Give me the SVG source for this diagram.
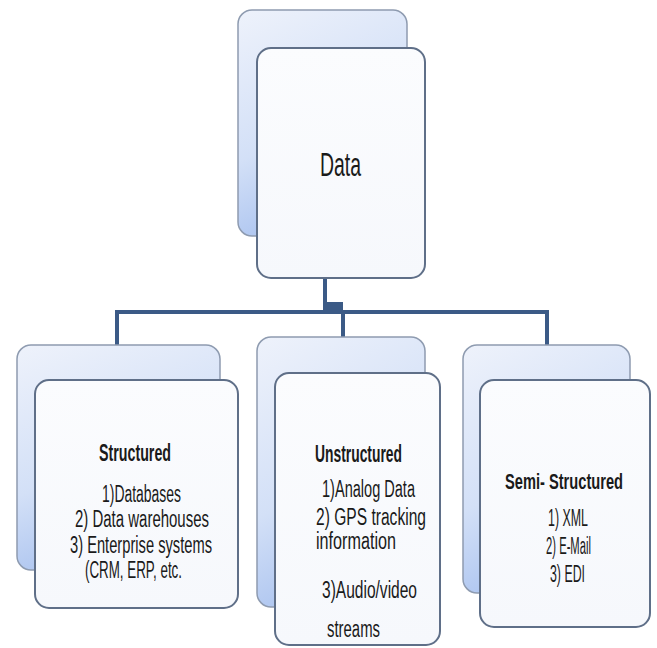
<svg xmlns="http://www.w3.org/2000/svg" width="657" height="648" viewBox="0 0 657 648">
  <defs>
    <linearGradient id="backGrad" x1="0" y1="0" x2="0.35" y2="1">
      <stop offset="0" stop-color="#eef2fb"/>
      <stop offset="0.6" stop-color="#d3e0f7"/>
      <stop offset="1" stop-color="#a9c2ef"/>
    </linearGradient>
    <linearGradient id="frontGrad" x1="0" y1="0" x2="0" y2="1">
      <stop offset="0" stop-color="#fbfcfe"/>
      <stop offset="1" stop-color="#f6f8fc"/>
    </linearGradient>
  </defs>
  <style>
    .back { fill: url(#backGrad); stroke: #8e9bb0; stroke-width: 1.5; }
    .front { fill: url(#frontGrad); stroke: #5f6f88; stroke-width: 2; }
    .conn { stroke: #3b5a86; stroke-width: 4; fill: none; }
    .t { font-family: "Liberation Sans", Arial, sans-serif; font-size: 23px; fill: #1a1a1a; }
    .b { font-weight: bold; }
  </style>
  <rect width="657" height="648" fill="#ffffff"/>

  <g id="connectors">
    <path class="conn" d="M325 278 V312"/>
    <path class="conn" d="M117 345 V312 H547 V345"/>
    <path class="conn" d="M343 312 V337"/>
    <rect x="325" y="302" width="18" height="10" fill="#3b5a86"/>
  </g>

  <g id="data">
    <rect class="back" x="238" y="10" width="169" height="226" rx="14"/>
    <rect class="front" x="257" y="48" width="168" height="230" rx="14"/>
    <text class="t" x="320" y="176" style="font-size:34px" textLength="41" lengthAdjust="spacingAndGlyphs">Data</text>
  </g>

  <g id="structured">
    <rect class="back" x="17" y="345" width="203" height="225" rx="14"/>
    <rect class="front" x="35" y="380" width="203" height="228" rx="14"/>
    <text class="t b" x="99" y="461" textLength="72" lengthAdjust="spacingAndGlyphs">Structured</text>
    <text class="t" x="102" y="502" textLength="79" lengthAdjust="spacingAndGlyphs">1)Databases</text>
    <text class="t" x="75" y="527" textLength="134" lengthAdjust="spacingAndGlyphs">2) Data warehouses</text>
    <text class="t" x="70" y="553" textLength="142" lengthAdjust="spacingAndGlyphs">3) Enterprise systems</text>
    <text class="t" x="85" y="578" textLength="97" lengthAdjust="spacingAndGlyphs">(CRM, ERP, etc.</text>
  </g>

  <g id="unstructured">
    <rect class="back" x="257" y="337" width="168" height="270" rx="14"/>
    <rect class="front" x="275" y="373" width="165" height="272" rx="14"/>
    <text class="t b" x="315" y="462" textLength="87" lengthAdjust="spacingAndGlyphs">Unstructured</text>
    <text class="t" x="322" y="497" textLength="93" lengthAdjust="spacingAndGlyphs">1)Analog Data</text>
    <text class="t" x="316" y="525" textLength="110" lengthAdjust="spacingAndGlyphs">2) GPS tracking</text>
    <text class="t" x="316" y="549" textLength="80" lengthAdjust="spacingAndGlyphs">information</text>
    <text class="t" x="322" y="598" textLength="95" lengthAdjust="spacingAndGlyphs">3)Audio/video</text>
    <text class="t" x="327" y="637" textLength="53" lengthAdjust="spacingAndGlyphs">streams</text>
  </g>

  <g id="semi-structured">
    <rect class="back" x="463" y="345" width="167" height="248" rx="14"/>
    <rect class="front" x="480" y="380" width="170" height="247" rx="14"/>
    <text class="t b" transform="translate(505 489) scale(1 1.5)" x="0" y="0" style="font-size:15px" textLength="118" lengthAdjust="spacingAndGlyphs">Semi- Structured</text>
    <text class="t" x="548" y="526" textLength="40" lengthAdjust="spacingAndGlyphs">1) XML</text>
    <text class="t" x="546" y="554" textLength="45" lengthAdjust="spacingAndGlyphs">2) E-Mail</text>
    <text class="t" x="550" y="582" textLength="35" lengthAdjust="spacingAndGlyphs">3) EDI</text>
  </g>
</svg>
